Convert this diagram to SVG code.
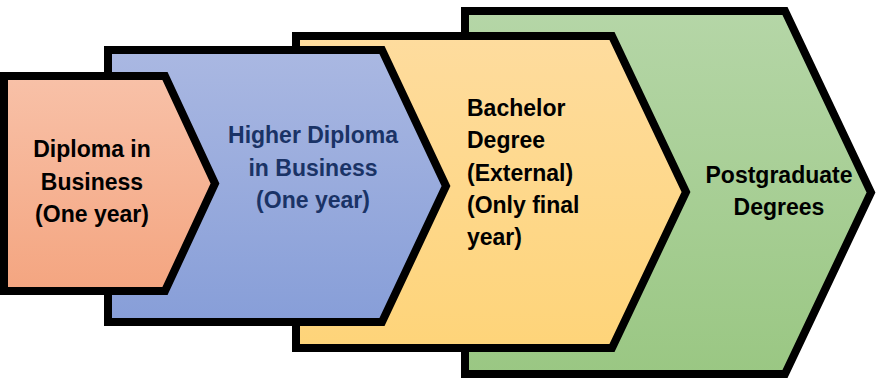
<svg xmlns="http://www.w3.org/2000/svg" width="876" height="378" viewBox="0 0 876 378">
<defs>
<linearGradient id="gOrange" x1="0" y1="0" x2="0" y2="1"><stop offset="0" stop-color="#F8C1A8"/><stop offset="1" stop-color="#F4A580"/></linearGradient>
<linearGradient id="gBlue" x1="0" y1="0" x2="0" y2="1"><stop offset="0" stop-color="#AAB8E2"/><stop offset="1" stop-color="#879ED8"/></linearGradient>
<linearGradient id="gYellow" x1="0" y1="0" x2="0" y2="1"><stop offset="0" stop-color="#FEDC9E"/><stop offset="1" stop-color="#FED479"/></linearGradient>
<linearGradient id="gGreen" x1="0" y1="0" x2="0" y2="1"><stop offset="0" stop-color="#B5D6A7"/><stop offset="1" stop-color="#9AC783"/></linearGradient>
</defs>
<style>
.chev{stroke:#000;stroke-width:8;stroke-linejoin:miter;stroke-miterlimit:10}
.lbl{font-family:"Liberation Sans",Arial,sans-serif;font-weight:bold;font-size:23px;fill:#000}
.blue{fill:#1A3366}
.c{text-anchor:middle}
</style>
<g id="connectors"></g>
<g id="node-postgraduate">
<polygon class="chev" fill="url(#gGreen)" points="465,11 785,11 871,192.5 785,374 465,374"/>
<text class="lbl c" x="779" y="183">Postgraduate</text>
<text class="lbl c" x="779" y="215">Degrees</text>
</g>
<g id="node-bachelor">
<polygon class="chev" fill="url(#gYellow)" points="296,36 612,36 686,192 612,348 296,348"/>
<text class="lbl" x="467" y="116">Bachelor</text>
<text class="lbl" x="467" y="148">Degree</text>
<text class="lbl" x="467" y="181">(External)</text>
<text class="lbl" x="467" y="213">(Only final</text>
<text class="lbl" x="467" y="245">year)</text>
</g>
<g id="node-higher-diploma">
<polygon class="chev" fill="url(#gBlue)" points="108,50 382,50 446,186 382,322 108,322"/>
<text class="lbl c blue" x="313" y="143">Higher Diploma</text>
<text class="lbl c blue" x="313" y="176">in Business</text>
<text class="lbl c blue" x="313" y="208">(One year)</text>
</g>
<g id="node-diploma">
<polygon class="chev" fill="url(#gOrange)" points="4,76 165,76 215,183.5 165,291 4,291"/>
<text class="lbl c" x="92" y="157">Diploma in</text>
<text class="lbl c" x="92" y="190">Business</text>
<text class="lbl c" x="92" y="222">(One year)</text>
</g>
</svg>
